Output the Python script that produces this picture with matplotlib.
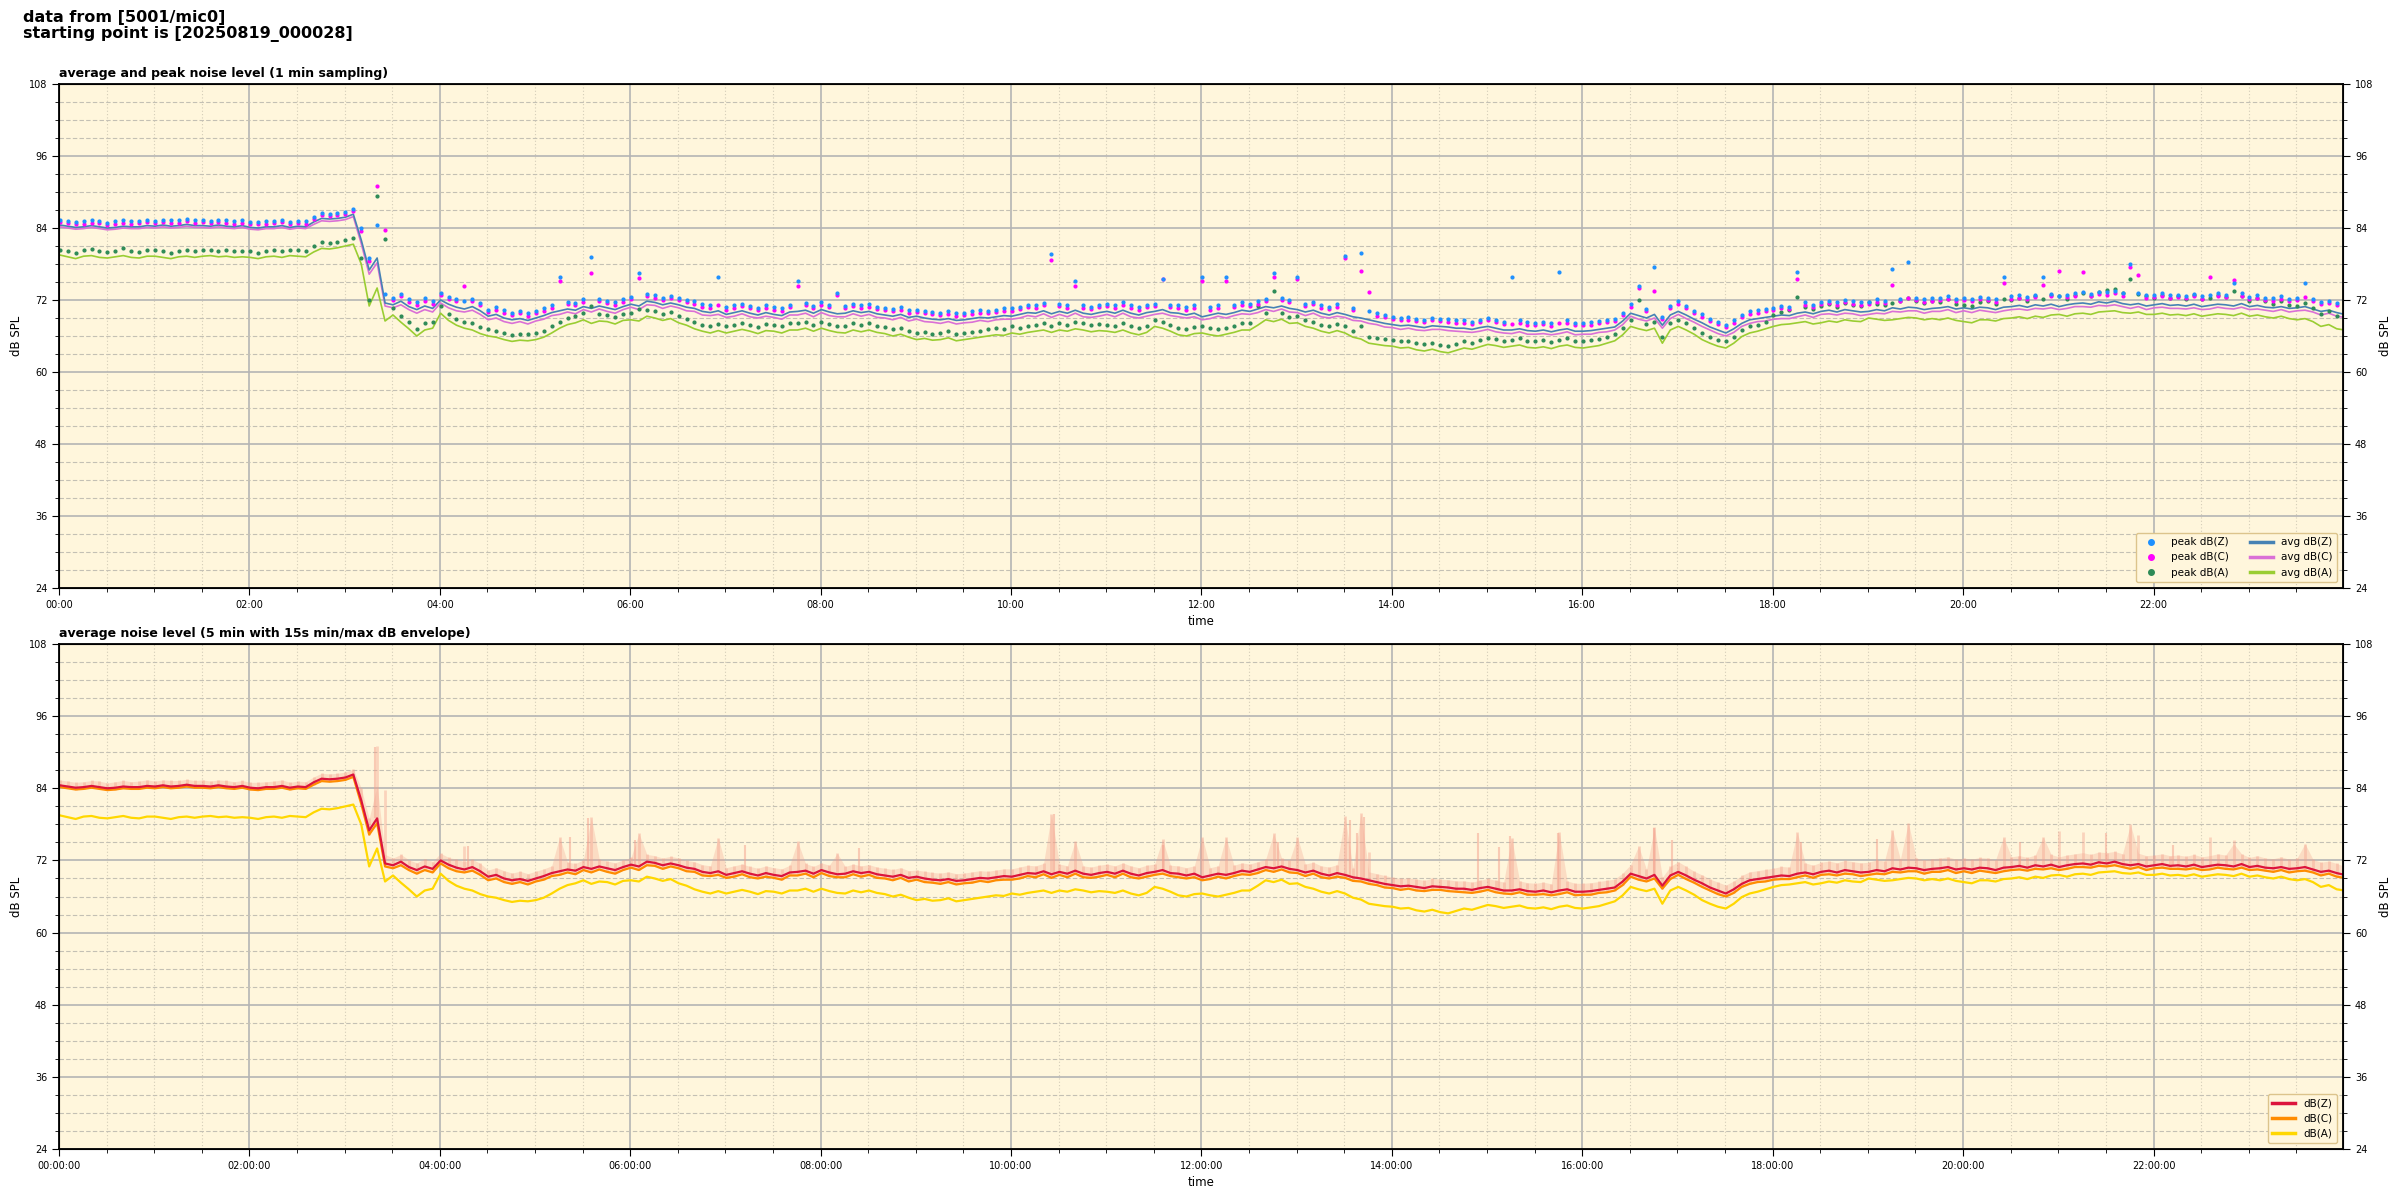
import numpy as np
import matplotlib
matplotlib.use("Agg")
import matplotlib.pyplot as plt
import matplotlib.dates as mdates
from matplotlib.lines import Line2D

# ---------------- data (5-minute samples, one row per hour) ----------------
start = np.datetime64("2025-08-19T00:00:28")
step_min = 5

avg_z = [
    84.5, 84.3, 84.1, 84.2, 84.4, 84.2, 84.0, 84.1, 84.3, 84.2, 84.2, 84.4,
    84.3, 84.5, 84.3, 84.4, 84.6, 84.4, 84.4, 84.3, 84.5, 84.3, 84.2, 84.4,
    84.1, 84.0, 84.2, 84.2, 84.4, 84.1, 84.3, 84.2, 85.0, 85.6, 85.5, 85.6,
    85.8, 86.3, 82.0, 77.0, 79.0, 71.5, 71.2, 71.8, 70.9, 70.4, 71.0, 70.6,
    72.0, 71.3, 70.8, 70.5, 70.9, 70.2, 69.3, 69.6, 69.0, 68.7, 68.9, 68.6,
    69.0, 69.4, 69.9, 70.2, 70.5, 70.3, 70.9, 70.6, 71.0, 70.7, 70.4, 70.9,
    71.3, 71.0, 71.8, 71.6, 71.2, 71.5, 71.2, 70.8, 70.6, 70.1, 69.9, 70.2,
    69.6, 69.9, 70.2, 69.8, 69.5, 69.9, 69.6, 69.4, 70.0, 70.1, 70.3, 69.8,
    70.4, 70.0, 69.7, 69.8, 70.2, 69.9, 70.1, 69.7, 69.5, 69.3, 69.6, 69.1,
    69.3, 69.0, 68.8, 68.7, 68.9, 68.6, 68.7, 68.9, 69.1, 69.0, 69.2, 69.4,
    69.3, 69.6, 69.9, 69.8, 70.2, 69.7, 70.1, 69.8, 70.3, 69.8, 69.6, 69.9,
    70.1, 69.8, 70.3, 69.8, 69.5, 69.9, 70.1, 70.4, 69.9, 69.8, 69.5, 69.8,
    69.2, 69.5, 69.8, 69.6, 69.9, 70.3, 70.1, 70.5, 70.9, 70.7, 71.0, 70.6,
    70.4, 70.0, 70.3, 69.8, 69.5, 69.9, 69.6, 69.2, 69.0, 68.7, 68.4, 68.1,
    67.9, 67.7, 67.8, 67.6, 67.4, 67.7, 67.6, 67.5, 67.3, 67.3, 67.1, 67.4,
    67.6, 67.3, 67.0, 67.0, 67.2, 66.9, 66.8, 67.0, 66.7, 67.0, 67.2, 66.8,
    66.8, 66.9, 67.1, 67.3, 67.5, 68.5, 69.8, 69.4, 69.0, 69.6, 67.8, 69.5,
    70.1, 69.5, 68.8, 68.2, 67.5, 67.0, 66.5, 67.2, 68.1, 68.7, 68.9, 69.1,
    69.3, 69.5, 69.4, 69.8, 70.0, 69.7, 70.1, 70.3, 70.0, 70.4, 70.2, 70.0,
    70.1, 70.4, 70.2, 70.7, 70.5, 70.8, 70.7, 70.4, 70.6, 70.7, 70.9, 70.5,
    70.7, 70.5, 70.8, 70.7, 70.4, 70.8, 70.9, 71.1, 70.8, 71.2, 71.0, 71.3,
    70.9, 71.2, 71.4, 71.5, 71.3, 71.7, 71.5, 71.8, 71.4, 71.2, 71.4, 71.0,
    71.2, 71.4, 71.1, 71.2, 71.0, 71.3, 70.9, 71.1, 71.3, 71.2, 71.0, 71.4,
    70.9, 71.1, 70.8, 70.7, 70.9, 70.6, 70.7, 70.9, 70.5, 70.1, 70.3, 69.9,
    69.6]

avg_c = [
    84.2, 84.0, 83.8, 83.9, 84.1, 83.9, 83.7, 83.8, 84.0, 83.9, 83.9, 84.1,
    84.0, 84.2, 84.0, 84.1, 84.3, 84.1, 84.1, 84.0, 84.2, 84.0, 83.9, 84.1,
    83.8, 83.7, 83.9, 83.9, 84.1, 83.8, 84.0, 83.9, 84.6, 85.2, 85.1, 85.2,
    85.4, 85.9, 81.4, 76.3, 78.2, 71.0, 70.7, 71.2, 70.4, 69.8, 70.4, 70.0,
    71.5, 70.7, 70.2, 70.0, 70.3, 69.6, 68.7, 69.0, 68.4, 68.1, 68.4, 68.0,
    68.5, 68.8, 69.4, 69.6, 70.0, 69.7, 70.4, 70.0, 70.5, 70.1, 69.8, 70.4,
    70.8, 70.4, 71.2, 71.1, 70.6, 71.0, 70.7, 70.2, 70.1, 69.5, 69.4, 69.6,
    69.1, 69.3, 69.7, 69.2, 69.0, 69.3, 69.1, 68.8, 69.5, 69.5, 69.8, 69.2,
    69.9, 69.4, 69.2, 69.2, 69.7, 69.3, 69.6, 69.1, 69.0, 68.7, 69.1, 68.5,
    68.8, 68.4, 68.3, 68.1, 68.4, 68.0, 68.2, 68.3, 68.6, 68.4, 68.7, 68.8,
    68.8, 69.0, 69.4, 69.2, 69.7, 69.1, 69.6, 69.2, 69.8, 69.2, 69.1, 69.3,
    69.6, 69.2, 69.8, 69.2, 69.0, 69.3, 69.6, 69.8, 69.4, 69.2, 69.0, 69.2,
    68.7, 68.9, 69.3, 69.0, 69.4, 69.7, 69.6, 69.9, 70.4, 70.1, 70.5, 70.0,
    69.9, 69.4, 69.8, 69.2, 69.0, 69.3, 69.1, 68.6, 68.5, 68.1, 67.9, 67.5,
    67.4, 67.1, 67.3, 67.0, 66.9, 67.1, 67.1, 66.9, 66.8, 66.7, 66.6, 66.8,
    67.1, 66.7, 66.5, 66.4, 66.7, 66.3, 66.3, 66.4, 66.2, 66.4, 66.7, 66.2,
    66.3, 66.3, 66.6, 66.7, 67.0, 67.9, 69.3, 68.8, 68.5, 69.0, 67.3, 68.9,
    69.6, 68.9, 68.3, 67.6, 67.0, 66.4, 66.0, 66.6, 67.6, 68.1, 68.4, 68.5,
    68.8, 68.9, 68.9, 69.2, 69.5, 69.1, 69.6, 69.7, 69.5, 69.8, 69.7, 69.4,
    69.6, 69.8, 69.7, 70.1, 70.0, 70.2, 70.2, 69.8, 70.1, 70.1, 70.4, 69.9,
    70.2, 69.9, 70.3, 70.1, 69.9, 70.2, 70.4, 70.5, 70.3, 70.6, 70.5, 70.7,
    70.4, 70.6, 70.9, 70.9, 70.8, 71.1, 71.0, 71.2, 70.9, 70.6, 70.9, 70.4,
    70.7, 70.8, 70.6, 70.6, 70.5, 70.7, 70.4, 70.5, 70.8, 70.6, 70.5, 70.8,
    70.4, 70.5, 70.3, 70.1, 70.4, 70.0, 70.2, 70.3, 70.0, 69.5, 69.8, 69.3,
    69.1]

avg_a = [
    79.5, 79.2, 78.9, 79.3, 79.4, 79.1, 79.0, 79.2, 79.4, 79.1, 79.0, 79.3,
    79.3, 79.1, 78.9, 79.2, 79.3, 79.1, 79.3, 79.4, 79.2, 79.3, 79.1, 79.2,
    79.1, 78.9, 79.2, 79.3, 79.1, 79.4, 79.3, 79.2, 80.0, 80.6, 80.5, 80.7,
    81.0, 81.3, 78.0, 71.0, 74.0, 68.5, 69.5, 68.3, 67.2, 66.0, 67.0, 67.3,
    69.8, 68.6, 67.8, 67.3, 67.0, 66.4, 66.0, 65.8, 65.4, 65.1, 65.3, 65.2,
    65.4, 65.8, 66.5, 67.3, 67.9, 68.2, 68.7, 68.1, 68.5, 68.4, 68.0, 68.6,
    68.7, 68.5, 69.3, 69.0, 68.6, 68.9, 68.2, 67.8, 67.2, 66.8, 66.5, 66.9,
    66.5, 66.8, 67.1, 66.8, 66.4, 66.9, 66.8, 66.5, 67.0, 67.0, 67.3, 66.8,
    67.3, 66.9, 66.6, 66.5, 67.0, 66.7, 67.0, 66.6, 66.4, 66.0, 66.3, 65.8,
    65.4, 65.6, 65.3, 65.4, 65.7, 65.2, 65.4, 65.6, 65.8, 66.0, 66.2, 66.1,
    66.5, 66.3, 66.6, 66.8, 67.0, 66.6, 67.0, 66.8, 67.2, 67.0, 66.7, 66.9,
    66.8, 66.6, 67.0, 66.5, 66.2, 66.6, 67.6, 67.3, 66.8, 66.2, 66.0, 66.4,
    66.5, 66.2, 66.0, 66.3, 66.6, 67.0, 67.0, 67.8, 68.7, 68.4, 68.8, 68.1,
    68.2, 67.6, 67.3, 66.8, 66.5, 66.9, 66.5, 65.8, 65.5, 64.8, 64.6, 64.4,
    64.3, 64.0, 64.1, 63.7, 63.5, 63.8, 63.4, 63.2, 63.6, 64.0, 63.8, 64.2,
    64.6, 64.4, 64.1, 64.3, 64.5, 64.1, 64.0, 64.2, 63.9, 64.3, 64.5, 64.1,
    64.0, 64.2, 64.4, 64.8, 65.2, 66.2, 67.6, 67.2, 66.9, 67.3, 64.8, 67.0,
    67.6, 67.0, 66.3, 65.4, 64.8, 64.3, 64.0, 64.8, 65.9, 66.5, 66.8, 67.2,
    67.6, 67.9, 68.0, 68.2, 68.4, 68.0, 68.2, 68.5, 68.3, 68.7, 68.5, 68.4,
    69.0, 68.8, 68.6, 68.7, 68.9, 69.1, 69.0, 68.7, 68.9, 68.7, 69.0, 68.6,
    68.4, 68.2, 68.7, 68.7, 68.5, 68.9, 69.0, 69.2, 68.9, 69.3, 69.1, 69.5,
    69.6, 69.3, 69.7, 69.8, 69.6, 70.0, 70.1, 70.2, 69.9, 69.8, 70.0, 69.6,
    69.6, 69.8, 69.5, 69.6, 69.4, 69.7, 69.3, 69.5, 69.7, 69.6, 69.4, 69.8,
    69.3, 69.5, 69.2, 69.0, 69.3, 68.9, 68.7, 68.9, 68.4, 67.6, 67.9, 67.2,
    67.0]

peak_z = [
    85.4, 85.2, 85.0, 85.1, 85.3, 85.2, 84.9, 85.1, 85.3, 85.1, 85.2, 85.4,
    85.2, 85.4, 85.3, 85.3, 85.5, 85.3, 85.4, 85.2, 85.4, 85.3, 85.1, 85.3,
    85.0, 85.0, 85.1, 85.2, 85.4, 85.0, 85.2, 85.1, 85.9, 86.5, 86.4, 86.5,
    86.7, 87.2, 84.0, 79.0, 84.5, 73.0, 72.4, 73.0, 72.1, 71.6, 72.3, 71.8,
    73.2, 72.5, 72.2, 71.8, 72.2, 71.5, 70.4, 70.8, 70.3, 69.9, 70.2, 69.8,
    70.2, 70.6, 71.1, 75.9, 71.7, 71.5, 72.1, 79.2, 72.2, 71.9, 71.6, 72.1,
    72.5, 76.5, 73.0, 72.8, 72.4, 72.7, 72.4, 72.0, 71.8, 71.3, 71.1, 75.8,
    70.8, 71.1, 71.4, 71.0, 70.7, 71.1, 70.8, 70.6, 71.2, 75.2, 71.5, 71.0,
    71.6, 71.2, 73.2, 71.0, 71.4, 71.1, 71.3, 70.9, 70.7, 70.5, 70.8, 70.3,
    70.4, 70.2, 70.0, 69.9, 70.1, 69.8, 69.9, 70.1, 70.3, 70.2, 70.4, 70.6,
    70.6, 70.9, 71.2, 71.1, 71.5, 79.7, 71.4, 71.1, 75.2, 71.1, 70.9, 71.2,
    71.4, 71.1, 71.6, 71.1, 70.8, 71.2, 71.4, 75.5, 71.2, 71.1, 70.8, 71.1,
    75.9, 70.8, 71.1, 75.9, 71.2, 71.6, 71.4, 71.8, 72.2, 76.5, 72.4, 72.0,
    75.9, 71.4, 71.7, 71.1, 70.9, 71.3, 79.4, 70.7, 79.9, 70.1, 69.8, 69.5,
    69.2, 69.0, 69.1, 68.9, 68.7, 69.0, 68.9, 68.8, 68.6, 68.6, 68.4, 68.7,
    69.0, 68.7, 68.4, 75.8, 68.6, 68.3, 68.2, 68.4, 68.1, 76.7, 68.6, 68.2,
    68.2, 68.3, 68.5, 68.7, 68.9, 69.9, 71.3, 74.4, 70.5, 77.5, 69.2, 71.0,
    71.8, 71.0, 70.2, 69.6, 68.9, 68.4, 67.9, 68.6, 69.5, 70.1, 70.3, 70.5,
    70.7, 71.0, 70.9, 76.7, 71.6, 71.2, 71.7, 71.9, 71.6, 72.0, 71.8, 71.6,
    71.7, 72.1, 71.9, 77.1, 72.2, 78.3, 72.4, 72.1, 72.3, 72.4, 72.6, 72.2,
    72.4, 72.2, 72.5, 72.4, 72.1, 75.9, 72.6, 72.8, 72.5, 72.9, 75.9, 73.0,
    72.6, 72.9, 73.1, 73.3, 73.0, 73.4, 73.3, 73.5, 73.1, 78.0, 73.2, 72.8,
    72.9, 73.1, 72.8, 72.9, 72.7, 73.0, 72.6, 72.8, 73.1, 72.9, 74.8, 73.1,
    72.5, 72.8, 72.4, 72.3, 72.6, 72.2, 72.4, 74.8, 72.2, 71.7, 71.9, 71.5,
    71.0]

peak_c = [
    85.0, 84.8, 84.6, 84.7, 84.9, 84.8, 84.5, 84.7, 84.9, 84.7, 84.8, 85.0,
    84.8, 85.0, 84.9, 84.9, 85.1, 84.9, 85.0, 84.8, 85.0, 84.9, 84.7, 84.9,
    84.6, 84.6, 84.7, 84.8, 85.0, 84.6, 84.8, 84.7, 85.5, 86.1, 86.0, 86.1,
    86.3, 86.8, 83.5, 78.5, 91.0, 83.7, 72.0, 72.6, 71.7, 71.2, 71.9, 71.4,
    72.8, 72.1, 71.8, 74.4, 71.8, 71.1, 70.0, 70.4, 69.9, 69.5, 69.8, 69.4,
    69.8, 70.2, 70.7, 75.1, 71.3, 71.1, 71.7, 76.5, 71.8, 71.5, 71.2, 71.7,
    72.1, 75.7, 72.6, 72.4, 72.0, 72.3, 72.0, 71.6, 71.4, 70.9, 70.7, 71.2,
    70.4, 70.7, 71.0, 70.6, 70.3, 70.7, 70.4, 70.2, 70.8, 74.4, 71.1, 70.6,
    71.2, 70.8, 72.8, 70.6, 71.0, 70.7, 70.9, 70.5, 70.3, 70.1, 70.4, 69.9,
    70.0, 69.8, 69.6, 69.5, 69.7, 69.4, 69.5, 69.7, 69.9, 69.8, 70.0, 70.2,
    70.2, 70.5, 70.8, 70.7, 71.1, 78.6, 71.0, 70.7, 74.4, 70.7, 70.5, 70.8,
    71.0, 70.7, 71.2, 70.7, 70.4, 70.8, 71.0, 75.5, 70.8, 70.7, 70.4, 70.7,
    75.1, 70.4, 70.7, 75.1, 70.8, 71.2, 71.0, 71.4, 71.8, 75.9, 72.0, 71.6,
    75.5, 71.0, 71.3, 70.7, 70.5, 70.9, 79.0, 70.3, 76.8, 73.4, 69.4, 69.1,
    68.8, 68.6, 68.7, 68.5, 68.3, 68.6, 68.5, 68.4, 68.2, 68.2, 68.0, 68.3,
    68.6, 68.3, 68.0, 68.0, 68.2, 67.9, 67.8, 68.0, 67.7, 68.1, 68.2, 67.8,
    67.8, 67.9, 68.1, 68.3, 68.5, 69.5, 70.9, 74.0, 70.1, 73.5, 68.8, 70.6,
    71.4, 70.6, 69.8, 69.2, 68.5, 68.0, 67.5, 68.2, 69.1, 69.7, 69.9, 70.1,
    70.3, 70.6, 70.5, 75.5, 71.2, 70.8, 71.3, 71.5, 71.2, 71.6, 71.4, 71.2,
    71.3, 71.7, 71.5, 74.5, 71.8, 72.3, 72.0, 71.7, 71.9, 72.0, 72.2, 71.8,
    72.0, 71.8, 72.1, 72.0, 71.7, 74.9, 72.2, 72.4, 72.1, 72.5, 74.5, 72.6,
    76.9, 72.5, 72.7, 76.7, 72.6, 73.0, 72.9, 73.1, 72.7, 77.5, 76.2, 72.4,
    72.5, 72.7, 72.4, 72.5, 72.3, 72.6, 72.2, 75.9, 72.7, 72.5, 75.4, 72.7,
    72.1, 72.4, 72.0, 71.9, 72.2, 71.8, 72.0, 72.5, 71.8, 71.3, 71.5, 71.1,
    70.6]

peak_a = [
    80.4, 80.2, 79.9, 80.3, 80.5, 80.1, 80.0, 80.2, 80.6, 80.1, 80.0, 80.3,
    80.3, 80.1, 79.9, 80.2, 80.4, 80.1, 80.3, 80.4, 80.2, 80.3, 80.1, 80.2,
    80.1, 79.9, 80.2, 80.3, 80.1, 80.4, 80.3, 80.2, 81.0, 81.6, 81.5, 81.7,
    82.0, 82.3, 79.0, 72.0, 89.4, 82.2, 70.6, 69.4, 68.3, 67.2, 68.1, 68.4,
    71.0, 69.7, 68.9, 68.4, 68.1, 67.5, 67.1, 66.9, 66.5, 66.2, 66.4, 66.3,
    66.5, 66.9, 67.6, 68.4, 69.0, 69.3, 69.8, 71.0, 69.6, 69.5, 69.1, 69.7,
    69.8, 70.5, 70.4, 70.1, 69.7, 70.0, 69.3, 68.9, 68.3, 67.9, 67.6, 68.0,
    67.6, 67.9, 68.2, 67.9, 67.5, 68.0, 67.9, 67.6, 68.1, 68.1, 68.4, 67.9,
    68.4, 68.0, 67.7, 67.6, 68.1, 67.8, 68.1, 67.7, 67.5, 67.1, 67.4, 66.9,
    66.5, 66.7, 66.4, 66.5, 66.8, 66.3, 66.5, 66.7, 66.9, 67.1, 67.3, 67.2,
    67.6, 67.4, 67.7, 67.9, 68.1, 67.7, 68.1, 67.9, 68.3, 68.1, 67.8, 68.0,
    67.9, 67.7, 68.1, 67.6, 67.3, 67.7, 68.7, 68.4, 67.9, 67.3, 67.1, 67.5,
    67.6, 67.3, 67.1, 67.4, 67.7, 68.1, 68.1, 71.0, 69.8, 73.5, 69.9, 69.2,
    69.3, 68.7, 68.4, 67.9, 67.6, 68.0, 67.6, 66.9, 67.6, 65.9, 65.7, 65.5,
    65.4, 65.1, 65.2, 64.8, 64.6, 64.9, 64.5, 64.3, 64.7, 65.1, 64.9, 65.3,
    65.7, 65.5, 65.2, 65.4, 65.6, 65.2, 65.1, 65.3, 65.0, 65.4, 65.6, 65.2,
    65.1, 65.3, 65.5, 65.9, 66.3, 67.3, 68.7, 72.0, 68.0, 68.4, 65.9, 68.1,
    68.7, 68.1, 67.4, 66.5, 65.9, 65.4, 65.1, 65.9, 67.0, 67.6, 67.9, 68.3,
    69.5, 70.0, 70.3, 72.5, 70.8, 70.5, 71.0, 71.3, 70.9, 71.5, 71.2, 71.0,
    71.7, 71.4, 71.2, 71.5, 71.9, 72.3, 71.8, 71.5, 71.9, 71.6, 72.2, 71.4,
    71.2, 71.0, 71.6, 71.8, 71.4, 72.1, 72.0, 72.4, 71.9, 72.6, 72.2, 72.8,
    72.6, 72.2, 72.9, 73.1, 72.7, 73.4, 73.6, 73.9, 73.2, 75.5, 73.0, 72.6,
    72.4, 72.9, 72.3, 72.7, 72.2, 72.8, 72.1, 72.4, 72.9, 72.5, 73.5, 72.7,
    71.9, 72.3, 71.8, 71.4, 71.9, 71.2, 71.0, 71.5, 70.6, 69.7, 70.2, 69.3,
    68.8]

# extra 15 s max-envelope spikes in the lower panel: (hour of day, dB)
spike_hours = [3.32, 4.30, 5.37, 5.56, 6.05, 7.20, 8.40, 10.45, 11.60, 12.80,
               13.56, 13.63, 13.71, 14.90, 15.13, 15.24, 15.75, 16.75, 16.94,
               18.30, 19.10, 20.60, 21.50, 22.20]
spike_db = [90.9, 74.4, 75.9, 79.0, 75.4, 74.5, 74.0, 79.8, 74.5, 75.0,
            78.7, 76.6, 79.2, 76.5, 74.2, 76.0, 76.5, 77.4, 75.4,
            75.0, 75.5, 75.0, 76.5, 74.5]

yticks_major = [24, 36, 48, 60, 72, 84, 96, 108]

# ---------------- preparation ----------------
n = min(len(avg_z), len(avg_c), len(avg_a), len(peak_z), len(peak_c), len(peak_a))
AZ, AC, AA = np.array(avg_z[:n]), np.array(avg_c[:n]), np.array(avg_a[:n])
PZ, PC, PA = np.array(peak_z[:n]), np.array(peak_c[:n]), np.array(peak_a[:n])

BG = "#fff6dc"
t64 = start + np.arange(n) * np.timedelta64(step_min, "m")
t = t64.astype("datetime64[s]").astype(object)
day0 = np.datetime64("2025-08-19T00:00:00").astype(object)
day1 = np.datetime64("2025-08-19T23:59:30").astype(object)
spike_t = [(np.datetime64("2025-08-19T00:00:00") +
            np.timedelta64(int(h * 3600), "s")).astype(object) for h in spike_hours]
spike_base = [AZ[min(int(round(h * 60 / step_min)), n - 1)] for h in spike_hours]

fig = plt.figure(figsize=(24, 12), dpi=100)
ax1 = fig.add_axes([0.0246, 0.51, 0.9517, 0.42])
ax2 = fig.add_axes([0.0246, 0.0425, 0.9517, 0.4208])

fig.text(0.0096, 0.992, "data from [5001/mic0]\nstarting point is [20250819_000028]",
         fontsize=11.5, fontweight="bold", va="top", ha="left", linespacing=1.1)


def style_axes(ax, fmt, title):
    ax.set_facecolor(BG)
    ax.set_xlim(day0, day1)
    ax.set_ylim(24, 108)
    ax.set_yticks(yticks_major)
    ax.set_yticks(np.arange(24, 109, 3), minor=True)
    ax.xaxis.set_major_locator(mdates.HourLocator(byhour=range(0, 24, 2)))
    ax.xaxis.set_minor_locator(mdates.MinuteLocator(byminute=[0, 30]))
    ax.xaxis.set_major_formatter(mdates.DateFormatter(fmt))
    ax.grid(True, which="major", axis="both", color="#b4b4b4", lw=1.2, ls="-")
    ax.grid(True, which="minor", axis="y", color="#c4c0b4", lw=0.8, ls=(0, (4, 2)))
    ax.grid(True, which="minor", axis="x", color="#d4cdb8", lw=0.8, ls=(0, (1, 2)))
    ax.set_axisbelow(True)
    ax.tick_params(labelsize=7, which="major", length=5)
    ax.tick_params(which="minor", length=3)
    ax.tick_params(axis="y", right=True, which="both")
    for s in ax.spines.values():
        s.set_linewidth(1.3)
    ax.set_xlabel("time", fontsize=8.5)
    ax.set_ylabel("dB SPL", fontsize=8.5)
    ax.set_title(title, loc="left", fontsize=9, fontweight="bold", pad=5)
    axr = ax.twinx()
    axr.set_ylim(24, 108)
    axr.set_yticks(yticks_major)
    axr.set_yticks(np.arange(24, 109, 3), minor=True)
    axr.tick_params(labelsize=7, which="major", length=5)
    axr.tick_params(which="minor", length=3)
    axr.set_ylabel("dB SPL", fontsize=8.5)
    return axr


# ---------------- top panel ----------------
style_axes(ax1, "%H:%M", "average and peak noise level (1 min sampling)")
ax1.plot(t, AA, color="#9acd32", lw=1.2, zorder=2)
ax1.plot(t, AC, color="#da70d6", lw=1.2, zorder=2)
ax1.plot(t, AZ, color="#4682b4", lw=1.2, zorder=2)
ax1.plot(t, PA, ls="none", marker="o", ms=2.0, color="#2e8b57", zorder=3)
ax1.plot(t, PC, ls="none", marker="o", ms=2.0, color="#ff00ff", zorder=3)
ax1.plot(t, PZ, ls="none", marker="o", ms=2.0, color="#1e90ff", zorder=3)

h1 = [Line2D([], [], ls="none", marker="o", ms=4, color="#1e90ff"),
      Line2D([], [], ls="none", marker="o", ms=4, color="#ff00ff"),
      Line2D([], [], ls="none", marker="o", ms=4, color="#2e8b57"),
      Line2D([], [], lw=2.5, color="#4682b4"),
      Line2D([], [], lw=2.5, color="#da70d6"),
      Line2D([], [], lw=2.5, color="#9acd32")]
l1 = ["peak dB(Z)", "peak dB(C)", "peak dB(A)", "avg dB(Z)", "avg dB(C)", "avg dB(A)"]
leg = ax1.legend(h1, l1, ncol=2, loc="lower right", fontsize=7.5, facecolor=BG,
                 edgecolor="#dcc48c", framealpha=1, columnspacing=2.0,
                 handlelength=2.2, borderaxespad=0.6)
leg.set_zorder(10)

# ---------------- bottom panel ----------------
style_axes(ax2, "%H:%M:%S", "average noise level (5 min with 15s min/max dB envelope)")
env_hi = np.maximum(PZ, PC)
ax2.fill_between(t, AC, PZ, color="#f4a08c", alpha=0.3, lw=0, zorder=1)
ax2.vlines(t, AC, env_hi, color="#f4a08c", alpha=0.4, lw=2.0, zorder=1)
ax2.vlines(spike_t, spike_base, spike_db, color="#f4a08c", alpha=0.5, lw=1.5, zorder=1)
ax2.plot(t, AA, color="#ffd700", lw=1.6, zorder=2)
ax2.plot(t, AC, color="#ff8c00", lw=1.6, zorder=2)
ax2.plot(t, AZ, color="#dc143c", lw=1.6, zorder=2)
h2 = [Line2D([], [], lw=2.5, color="#dc143c"),
      Line2D([], [], lw=2.5, color="#ff8c00"),
      Line2D([], [], lw=2.5, color="#ffd700")]
leg2 = ax2.legend(h2, ["dB(Z)", "dB(C)", "dB(A)"], loc="lower right", fontsize=7.5,
                  facecolor=BG, edgecolor="#dcc48c", framealpha=1,
                  handlelength=2.2, borderaxespad=0.6)
leg2.set_zorder(10)

fig.savefig("out.png", dpi=100)
